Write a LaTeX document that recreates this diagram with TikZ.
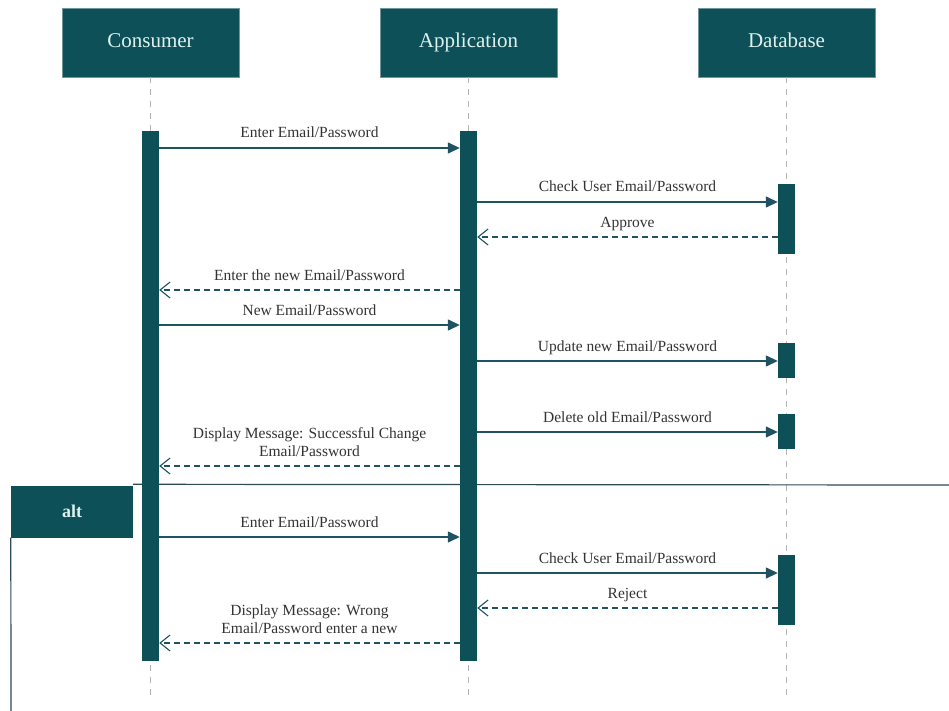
\documentclass[tikz,border=0pt]{standalone}
\usepackage{fontspec}
\setmainfont{Liberation Serif}
\newfontfamily\diagfont{Liberation Serif}
\usetikzlibrary{arrows.meta}
\definecolor{teal}{HTML}{0E5058}
\definecolor{pale}{HTML}{DDF2EF}
\definecolor{arrowc}{HTML}{1F5262}
\definecolor{lifec}{HTML}{B4B4B4}
\definecolor{framec}{HTML}{2E4A52}
\tikzset{
  head/.style={rectangle, fill=teal, draw=teal!60, minimum width=177pt, minimum height=69pt, inner sep=0pt,
    text height=14pt, text depth=4pt,
    text=pale, font=\diagfont\fontsize{21}{25}\selectfont},
  actbar/.style={rectangle, fill=teal, minimum width=17pt, inner sep=0pt},
  life/.style={draw=lifec, line width=0.8pt, dash pattern=on 6pt off 6pt},
  syncmsg/.style={draw=arrowc, line width=1.4pt, -{Triangle[length=12pt,width=11pt]}},
  retmsg/.style={draw=arrowc, line width=1.1pt, dash pattern=on 6pt off 4pt, -{Straight Barb[length=10pt,width=16pt,line width=1.1pt]}},
  lbl/.style={midway, anchor=base, yshift=10pt, inner sep=0pt, align=center, text=black!80,
    font=\diagfont\fontsize{15.5}{18}\selectfont},
  altbox/.style={rectangle, fill=teal, minimum width=122pt, minimum height=52pt, inner sep=0pt,
    text=pale, font=\diagfont\bfseries\fontsize{18}{20}\selectfont},
  frameline/.style={draw=framec, line width=1.2pt}
}
\begin{document}
\begin{tikzpicture}[x=1pt,y=-1pt]
\useasboundingbox[fill=white] (0,0) rectangle (949,711);
% headers
\node[head] (cons) at (150.5,42.5) {Consumer};
\node[head] (app) at (468.5,42.5) {Application};
\node[head] (db) at (786.5,42.5) {Database};
% lifelines
\coordinate (consend) at (150.5,697);
\coordinate (append) at (468.5,697);
\coordinate (dbend) at (786.5,697);
\draw[life] (cons.south) -- (consend);
\draw[life] (app.south) -- (append);
\draw[life] (db.south) -- (dbend);
% alt frame
\node[altbox] (alt) at (72,511.5) {alt};
\coordinate (frameright) at (949,485);
\coordinate (framebottom) at (11,711);
\draw[frameline] (alt.north east) ++(0,-1) -- (frameright);
\draw[frameline] (alt.south west) -- (framebottom);
% activation bars
\node[actbar, minimum height=530pt] (cbar) at (150.5,396) {};
\node[actbar, minimum height=530pt] (abar) at (468.5,396) {};
\node[actbar, minimum height=70pt] (dbarA) at (786.5,219) {};
\node[actbar, minimum height=35pt] (dbarB) at (786.5,360.5) {};
\node[actbar, minimum height=35pt] (dbarC) at (786.5,431.5) {};
\node[actbar, minimum height=70pt] (dbarD) at (786.5,590) {};
% messages
\draw[syncmsg] (cbar.east |- 0,148) -- (abar.west |- 0,148) node[lbl]{Enter Email/Password};
\draw[syncmsg] (abar.east |- 0,202) -- (dbarA.west |- 0,202) node[lbl]{Check User Email/Password};
\draw[retmsg] (dbarA.west |- 0,237) -- (abar.east |- 0,237) node[lbl]{Approve};
\draw[retmsg] (abar.west |- 0,290) -- (cbar.east |- 0,290) node[lbl]{Enter the new Email/Password};
\draw[syncmsg] (cbar.east |- 0,325) -- (abar.west |- 0,325) node[lbl]{New Email/Password};
\draw[syncmsg] (abar.east |- 0,361) -- (dbarB.west |- 0,361) node[lbl]{Update new Email/Password};
\draw[syncmsg] (abar.east |- 0,432) -- (dbarC.west |- 0,432) node[lbl]{Delete old Email/Password};
\draw[retmsg] (abar.west |- 0,466) -- (cbar.east |- 0,466) node[lbl]{Display Message: Successful Change\\Email/Password};
\draw[syncmsg] (cbar.east |- 0,537) -- (abar.west |- 0,537) node[lbl]{Enter Email/Password};
\draw[syncmsg] (abar.east |- 0,573) -- (dbarD.west |- 0,573) node[lbl]{Check User Email/Password};
\draw[retmsg] (dbarD.west |- 0,608) -- (abar.east |- 0,608) node[lbl]{Reject};
\draw[retmsg] (abar.west |- 0,643) -- (cbar.east |- 0,643) node[lbl]{Display Message: Wrong\\Email/Password enter a new};
\end{tikzpicture}
\end{document}
